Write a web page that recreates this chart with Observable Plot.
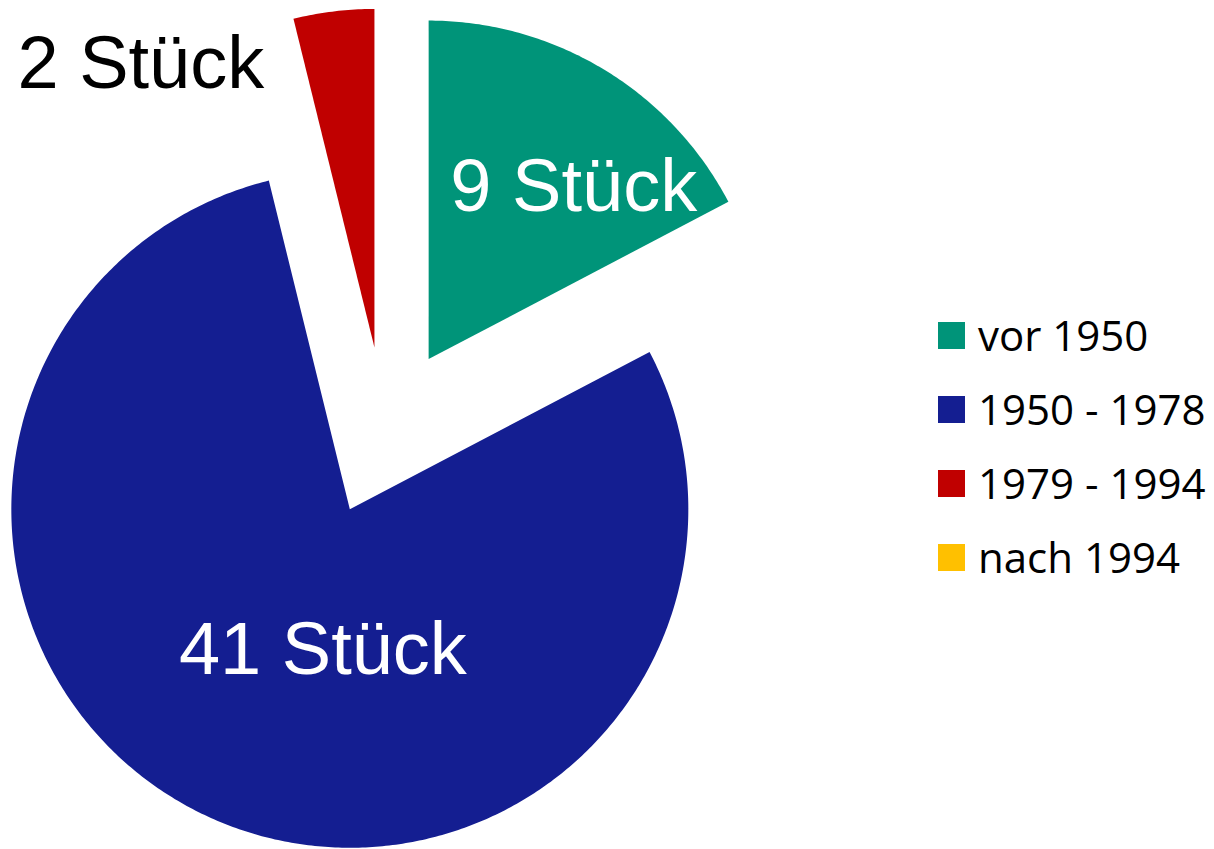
<!DOCTYPE html>
<html>
<head>
<meta charset="utf-8">
<script src="https://cdn.jsdelivr.net/npm/d3@7"></script>
<script src="https://cdn.jsdelivr.net/npm/@observablehq/plot@0.6"></script>
<style>
  html, body { margin: 0; padding: 0; background: #fff; }
  #wrap { position: relative; width: 1214px; height: 849px; overflow: hidden; }
  #chart { position: absolute; left: 0; top: 0; }
  #legend { position: absolute; left: 938px; top: 298px; font-family: "Open Sans", Lato, sans-serif; }
  .item { display: flex; align-items: center; height: 74px; }
  .sw { width: 27px; height: 27px; margin-right: 13px; flex: none; }
  .lab { font-size: 42px; line-height: 74px; color: #000; white-space: nowrap; }
</style>
</head>
<body>
<div id="wrap"><div id="chart"></div><div id="legend"></div></div>
<script>
// ---- data ----
const categories = ["vor 1950", "1950 - 1978", "1979 - 1994", "nach 1994"];
const counts = [9, 41, 2, 0];
const colors = ["#009479", "#141E91", "#C00000", "#FFC000"];
const unit = "Stück";

// ---- layout ----
const W = 930, H = 849;
const R = 338.5;                 // pie radius in px
const cx = 384.2, cy = 431.3;    // pie centre in px
const explode = 0.251;           // explosion distance (fraction of radius)
// label placement: angle (deg, clockwise from top) and distance from slice apex (fraction of radius)
const labelAngle = [40.2, 190.8, 320.5, 0];
const labelDist = [0.664, 0.425, 1.085, 0];
const labelColor = ["#fff", "#fff", "#000", "#000"];

const arcs = d3.pie().sort(null).startAngle(0).endAngle(2 * Math.PI)(counts);

const slices = [];
const labels = [];
arcs.forEach((a, i) => {
  if (counts[i] <= 0) return;
  const mid = (a.startAngle + a.endAngle) / 2;
  const ox = explode * Math.sin(mid), oy = explode * Math.cos(mid);
  const pts = [{cat: categories[i], x: ox, y: oy}];
  const n = Math.max(8, Math.ceil((a.endAngle - a.startAngle) / 0.01));
  for (let k = 0; k <= n; k++) {
    const t = a.startAngle + (a.endAngle - a.startAngle) * k / n;
    pts.push({cat: categories[i], x: ox + Math.sin(t), y: oy + Math.cos(t)});
  }
  pts.push({cat: categories[i], x: ox, y: oy});
  slices.push({i, pts});
  const la = labelAngle[i] * Math.PI / 180;
  labels.push({
    text: `${counts[i]} ${unit}`,
    x: ox + labelDist[i] * Math.sin(la),
    y: oy + labelDist[i] * Math.cos(la),
    color: labelColor[i]
  });
});

const chart = Plot.plot({
  width: W,
  height: H,
  margin: 0,
  x: {domain: [-cx / R, (W - cx) / R], axis: null},
  y: {domain: [(cy - H) / R, cy / R], axis: null},
  marks: [
    ...slices.map(s => Plot.line(s.pts, {x: "x", y: "y", fill: colors[s.i], stroke: "none"})),
    Plot.text(labels, {
      x: "x", y: "y", text: "text", fill: d => d.color,
      fontSize: 74, fontFamily: "Liberation Sans, Arial, sans-serif",
      textAnchor: "middle", lineAnchor: "middle"
    })
  ]
});
document.getElementById("chart").appendChild(chart);

const legend = document.getElementById("legend");
categories.forEach((c, i) => {
  const it = document.createElement("div");
  it.className = "item";
  it.innerHTML = `<div class="sw" style="background:${colors[i]}"></div><span class="lab">${c}</span>`;
  legend.appendChild(it);
});
</script>
</body>
</html>
